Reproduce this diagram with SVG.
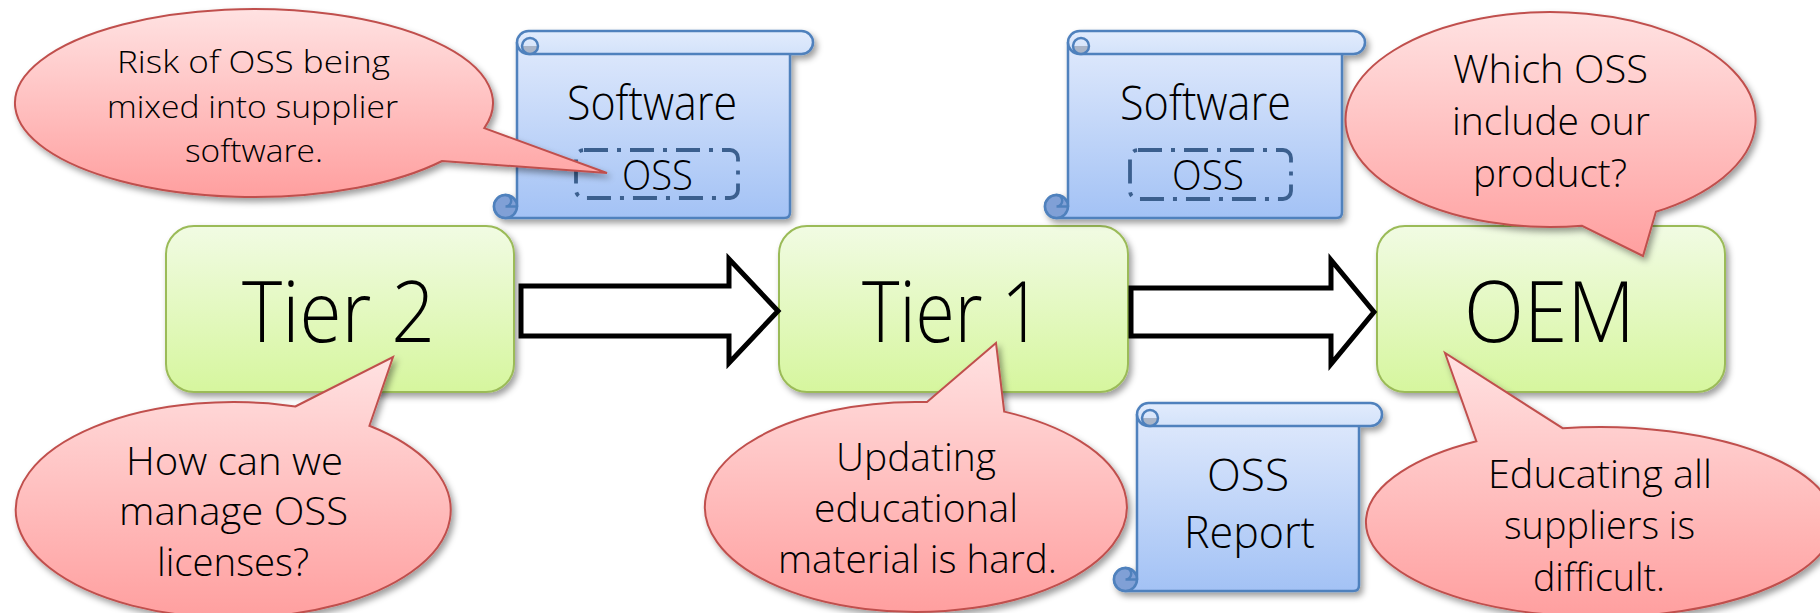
<svg xmlns="http://www.w3.org/2000/svg" width="1820" height="613" viewBox="0 0 1820 613">
<defs>
<linearGradient id="gGreen" x1="0" y1="0" x2="0" y2="1"><stop offset="0" stop-color="#f1fbe3"/><stop offset="1" stop-color="#d6f69e"/></linearGradient>
<linearGradient id="gBlue" x1="0" y1="0" x2="0" y2="1"><stop offset="0" stop-color="#dfe9fc"/><stop offset="1" stop-color="#a3c2f5"/></linearGradient>
<linearGradient id="gRoll" x1="0" y1="0" x2="0" y2="1"><stop offset="0" stop-color="#e2ecfd"/><stop offset="1" stop-color="#d3e2fa"/></linearGradient>
<linearGradient id="gPink" x1="0" y1="0" x2="0" y2="1"><stop offset="0" stop-color="#ffe2e2"/><stop offset="1" stop-color="#ff9f9f"/></linearGradient>
<filter id="sh" x="-10%" y="-10%" width="125%" height="130%"><feDropShadow dx="3" dy="4" stdDeviation="3" flood-color="#000" flood-opacity="0.38"/></filter>
</defs>
<style>
.t{font-family:"Open Sans","Noto Sans","DejaVu Sans",sans-serif;font-weight:300;fill:#000;text-anchor:middle}
.big{font-size:84px}
.c1{font-size:31px}
.c{font-size:39px}
.sw{font-size:47px}
.oss{font-size:42px}
.rep{font-size:45px}
.box{fill:url(#gGreen);stroke:#9bbb59;stroke-width:2}
.scr{fill:url(#gBlue);stroke:#4f81bd;stroke-width:2.5;stroke-linejoin:round}
.roll{fill:url(#gRoll);stroke:#4f81bd;stroke-width:2.5}
.curlT{fill:#aab5c8;stroke:none}
.curlB{fill:#80a0d6;stroke:#4f81bd;stroke-width:2.5}
.ln{fill:none;stroke:#4f81bd;stroke-width:2.5}
.call{fill:url(#gPink);stroke:#c0504d;stroke-width:2;stroke-linejoin:miter}
.arrow{fill:#fff;stroke:#000;stroke-width:5;stroke-linejoin:miter}
.dash{fill:none;stroke:#3b5f8e;stroke-width:3.8;stroke-dasharray:24 9 4 9}
</style>
<rect width="1820" height="613" fill="#fff"/>

<g id="tier2">
<rect class="box" x="166" y="226" width="348" height="166" rx="28" filter="url(#sh)"/>
<text class="t big" x="338.5" y="342" textLength="193" lengthAdjust="spacingAndGlyphs">Tier 2</text>
</g>
<g id="tier1">
<rect class="box" x="779" y="226" width="349" height="166" rx="28" filter="url(#sh)"/>
<text class="t big" x="952" y="342" textLength="180" lengthAdjust="spacingAndGlyphs">Tier 1</text>
</g>
<g id="oem">
<rect class="box" x="1377" y="226" width="348" height="166" rx="28" filter="url(#sh)"/>
<text class="t big" x="1549.5" y="342" textLength="171" lengthAdjust="spacingAndGlyphs">OEM</text>
</g>

<g id="connectors">
<path class="arrow" d="M521 286 H729 V259 L778 311 L729 363 V336 H521 Z"/>
<path class="arrow" d="M1131 288 H1331 V260 L1374 312 L1331 364 V336 H1131 Z"/>
</g>

<g id="scroll1">
<g transform="translate(494 31)" filter="url(#sh)">
<path class="scr" d="M23,11.5 H296 V181.25 Q296,187 290.25,187 H11.5 A11.5,11.5 0 0 1 11.5,164 A11.5,11.5 0 0 1 23,175.5 Z"/>
<circle class="curlB" cx="11.5" cy="175.5" r="11.5"/>
<path class="ln" d="M11.5,164 A5.75,5.75 0 0 1 11.5,175.5 H23"/>
<path class="roll" d="M34.5,0 H307.5 A11.5,11.5 0 0 1 307.5,23 H34.5 A11.5,11.5 0 0 1 34.5,0 Z"/>
<path class="curlT" d="M28,15 A8,8 0 0 0 44,15 Z"/>
<circle class="ln" cx="36" cy="15" r="8"/>
</g>
<text class="t sw" x="652" y="120" textLength="170" lengthAdjust="spacingAndGlyphs">Software</text>
<rect class="dash" x="576" y="150" width="162" height="48" rx="8"/>
<text class="t oss" x="657.5" y="190" textLength="71" lengthAdjust="spacingAndGlyphs">OSS</text>
</g>

<g id="scroll2">
<g transform="translate(1045 31)" filter="url(#sh)">
<path class="scr" d="M23,11.5 H297 V181.25 Q297,187 291.25,187 H11.5 A11.5,11.5 0 0 1 11.5,164 A11.5,11.5 0 0 1 23,175.5 Z"/>
<circle class="curlB" cx="11.5" cy="175.5" r="11.5"/>
<path class="ln" d="M11.5,164 A5.75,5.75 0 0 1 11.5,175.5 H23"/>
<path class="roll" d="M34.5,0 H308.5 A11.5,11.5 0 0 1 308.5,23 H34.5 A11.5,11.5 0 0 1 34.5,0 Z"/>
<path class="curlT" d="M28,15 A8,8 0 0 0 44,15 Z"/>
<circle class="ln" cx="36" cy="15" r="8"/>
</g>
<text class="t sw" x="1205.5" y="120" textLength="171" lengthAdjust="spacingAndGlyphs">Software</text>
<rect class="dash" x="1130" y="150" width="161" height="49" rx="8"/>
<text class="t oss" x="1208" y="190" textLength="72" lengthAdjust="spacingAndGlyphs">OSS</text>
</g>

<g id="scroll3">
<g transform="translate(1114 403)" filter="url(#sh)">
<path class="scr" d="M23,11.5 H245 V182.25 Q245,188 239.25,188 H11.5 A11.5,11.5 0 0 1 11.5,165 A11.5,11.5 0 0 1 23,176.5 Z"/>
<circle class="curlB" cx="11.5" cy="176.5" r="11.5"/>
<path class="ln" d="M11.5,165 A5.75,5.75 0 0 1 11.5,176.5 H23"/>
<path class="roll" d="M34.5,0 H256.5 A11.5,11.5 0 0 1 256.5,23 H34.5 A11.5,11.5 0 0 1 34.5,0 Z"/>
<path class="curlT" d="M28,15 A8,8 0 0 0 44,15 Z"/>
<circle class="ln" cx="36" cy="15" r="8"/>
</g>
<text class="t rep" x="1248" y="491" textLength="82" lengthAdjust="spacingAndGlyphs">OSS</text>
<text class="t rep" x="1249.5" y="548" textLength="131" lengthAdjust="spacingAndGlyphs">Report</text>
</g>

<g id="callout1">
<path class="call" filter="url(#sh)" d="M484.3 128.1 L607 173 L442.1 161 A239 94 0 1 1 484.3 128.1 Z"/>
<text class="t c1" x="253.5" y="73" textLength="273" lengthAdjust="spacingAndGlyphs">Risk of OSS being</text>
<text class="t c1" x="252.5" y="118" textLength="291" lengthAdjust="spacingAndGlyphs">mixed into supplier</text>
<text class="t c1" x="254" y="162" textLength="138" lengthAdjust="spacingAndGlyphs">software.</text>
</g>

<g id="callout2">
<path class="call" filter="url(#sh)" d="M1655.9 211.8 L1643 256 L1582 225.8 A205 107.5 0 1 1 1655.9 211.8 Z"/>
<text class="t c" x="1550.5" y="83" textLength="195" lengthAdjust="spacingAndGlyphs">Which OSS</text>
<text class="t c" x="1551" y="135" textLength="198" lengthAdjust="spacingAndGlyphs">include our</text>
<text class="t c" x="1550" y="187" textLength="154" lengthAdjust="spacingAndGlyphs">product?</text>
</g>

<g id="callout3">
<path class="call" filter="url(#sh)" d="M295.3 406.5 L393 357 L369.4 425.8 A217.5 108 0 1 1 295.3 406.5 Z"/>
<text class="t c" x="234.5" y="475" textLength="217" lengthAdjust="spacingAndGlyphs">How can we</text>
<text class="t c" x="233.5" y="525" textLength="229" lengthAdjust="spacingAndGlyphs">manage OSS</text>
<text class="t c" x="233" y="576" textLength="152" lengthAdjust="spacingAndGlyphs">licenses?</text>
</g>

<g id="callout4">
<path class="call" filter="url(#sh)" d="M927 402.1 L996 343 L1004.2 411.6 A211 105 0 1 1 927 402.1 Z"/>
<text class="t c" x="916" y="471" textLength="160" lengthAdjust="spacingAndGlyphs">Updating</text>
<text class="t c" x="916" y="522" textLength="204" lengthAdjust="spacingAndGlyphs">educational</text>
<text class="t c" x="917.5" y="573" textLength="279" lengthAdjust="spacingAndGlyphs">material is hard.</text>
</g>

<g id="callout5">
<path class="call" filter="url(#sh)" d="M1476.4 441.3 L1445 353 L1562.6 428.2 A234 95 0 1 1 1476.4 441.3 Z"/>
<text class="t c" x="1600" y="488" textLength="224" lengthAdjust="spacingAndGlyphs">Educating all</text>
<text class="t c" x="1599.5" y="539" textLength="191" lengthAdjust="spacingAndGlyphs">suppliers is</text>
<text class="t c" x="1599" y="591" textLength="132" lengthAdjust="spacingAndGlyphs">difficult.</text>
</g>
</svg>
